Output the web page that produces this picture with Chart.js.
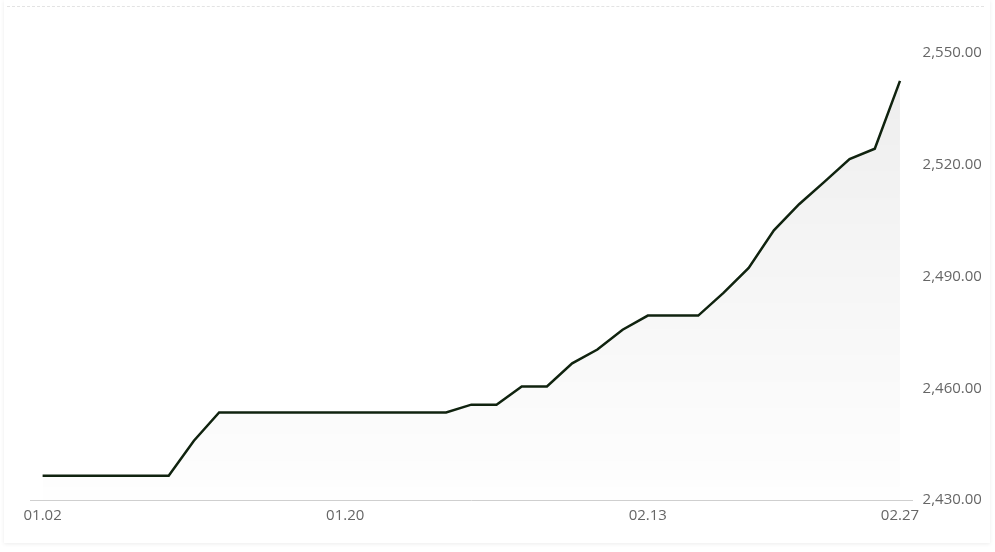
<!DOCTYPE html>
<html>
<head>
<meta charset="utf-8">
<script src="https://cdn.jsdelivr.net/npm/chart.js@4/dist/chart.umd.min.js"></script>
<style>
  html, body { margin: 0; padding: 0; background: #fff; }
  .card {
    position: absolute; left: 4px; top: 0; width: 986px; height: 543px;
    background: #fff; overflow: hidden;
    box-shadow: 0 1px 4px rgba(0, 0, 0, 0.08);
  }
  .topline {
    position: absolute; left: 3px; right: 6px; top: 6px;
    border-top: 1px dashed #e3e3e3;
  }
  .clip { position: absolute; left: -4px; top: 0; width: 981px; height: 545px; overflow: hidden; }
  .wrap { position: absolute; left: 0; top: 0; width: 1000px; height: 545px; }
</style>
</head>
<body>
<div class="card">
  <div class="topline"></div>
  <div class="clip"><div class="wrap"><canvas id="chart"></canvas></div></div>
</div>
<script>
  // trading days shown on the chart
  const dates = [
    "01.02", "01.03", "01.06", "01.07", "01.08", "01.09", "01.10",
    "01.13", "01.14", "01.15", "01.16", "01.17", "01.20", "01.21",
    "01.22", "01.23", "01.24", "01.27", "02.05", "02.06", "02.07",
    "02.10", "02.11", "02.12", "02.13", "02.14", "02.17", "02.18",
    "02.19", "02.20", "02.21", "02.24", "02.25", "02.26", "02.27",
  ];
  const prices = [
    2436.5, 2436.5, 2436.5, 2436.5, 2436.5, 2436.5, 2445.9,
    2453.5, 2453.5, 2453.5, 2453.5, 2453.5, 2453.5, 2453.5,
    2453.5, 2453.5, 2453.5, 2455.6, 2455.6, 2460.5, 2460.5,
    2466.7, 2470.4, 2475.7, 2479.5, 2479.5, 2479.5, 2485.6,
    2492.3, 2502.4, 2509.4, 2515.4, 2521.5, 2524.3, 2542.5,
  ];
  const shownDates = ["01.02", "01.20", "02.13", "02.27"];
  const yTicks = [2430, 2460, 2490, 2520, 2550];

  const fontFamily = "'Open Sans', 'Noto Sans', sans-serif";

  new Chart(document.getElementById("chart"), {
    type: "line",
    data: {
      labels: dates,
      datasets: [
        {
          data: prices,
          borderColor: "#10230f",
          borderWidth: 2.5,
          pointRadius: 0,
          tension: 0,
          fill: "start",
          backgroundColor: (ctx) => {
            const area = ctx.chart.chartArea;
            if (!area) return "rgba(0,0,0,0.03)";
            const g = ctx.chart.ctx.createLinearGradient(0, area.top, 0, area.bottom);
            g.addColorStop(0, "rgba(0,0,0,0.07)");
            g.addColorStop(1, "rgba(0,0,0,0.005)");
            return g;
          },
        },
      ],
    },
    options: {
      responsive: true,
      maintainAspectRatio: false,
      animation: false,
      layout: { padding: { left: 30, top: 53, right: 0, bottom: 0 } },
      plugins: { legend: { display: false }, tooltip: { enabled: false } },
      scales: {
        x: {
          offset: true,
          grid: { display: false, drawTicks: false },
          border: { display: true, color: "#cfcfcf", width: 1 },
          afterFit: (scale) => { scale.height = 45; },
          ticks: {
            autoSkip: false,
            maxRotation: 0,
            padding: 7,
            color: "#666",
            font: { size: 15, family: fontFamily },
            callback: function (value) {
              const lbl = this.getLabelForValue(value);
              return shownDates.includes(lbl) ? lbl : "";
            },
          },
        },
        y: {
          position: "right",
          min: yTicks[0],
          max: yTicks[yTicks.length - 1],
          grid: { display: false, drawTicks: false },
          border: { display: false },
          afterFit: (scale) => { scale.width = 87.4; },
          afterBuildTicks: (scale) => {
            scale.ticks = yTicks.map((v) => ({ value: v }));
          },
          ticks: {
            padding: 10,
            color: "#666",
            font: { size: 15, family: fontFamily },
            callback: (v) =>
              v.toLocaleString("en-US", { minimumFractionDigits: 2, maximumFractionDigits: 2 }),
          },
        },
      },
    },
  });
</script>
</body>
</html>
